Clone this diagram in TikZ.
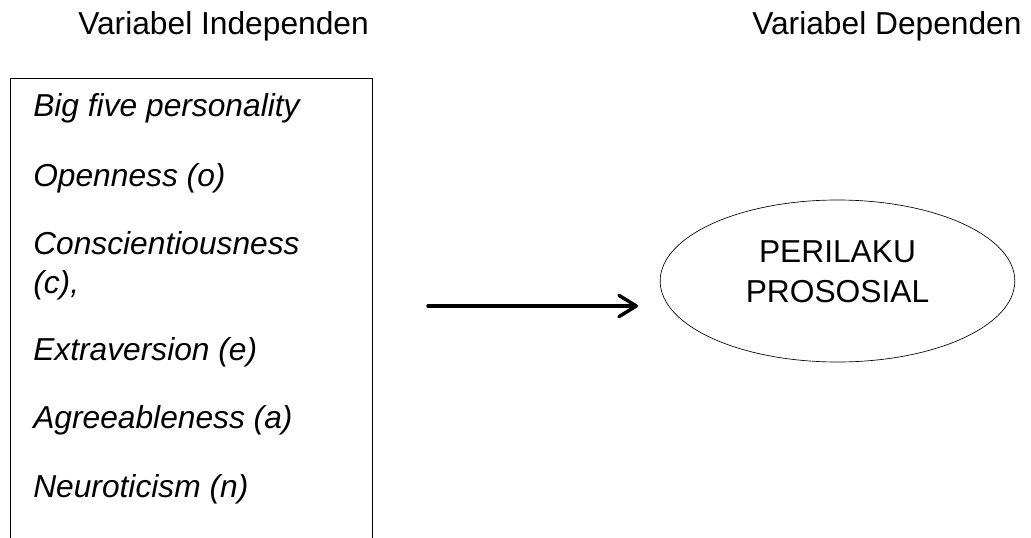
\documentclass[tikz,border=0pt]{standalone}
\usepackage{fontspec}
\setmainfont{Liberation Sans}
\usetikzlibrary{arrows.meta,positioning,shapes.geometric}
\tikzset{
  heading/.style={anchor=base west,inner sep=0pt,
                  font=\fontsize{23.8}{28}\selectfont},
  trait/.style={anchor=base west,inner sep=0pt,
                font=\fontsize{23.8}{28}\selectfont\itshape},
  traitbox/.style={draw=black,line width=0.6pt,anchor=north west,
                   minimum width=271.5pt,minimum height=400pt,inner sep=0pt},
  outcome/.style={draw=black,ellipse,line width=0.5pt,
                  minimum width=266pt,minimum height=121.5pt,inner sep=0pt},
  outlabel/.style={align=center,inner sep=0pt,
                   font=\fontsize{23.8}{30}\selectfont},
  mainarr/.style={-{Straight Barb[length=13pt,width=16pt,round]},
                  line width=2.6pt,line cap=round}
}
\begin{document}
\begin{tikzpicture}[x=0.75pt,y=-0.75pt]
    \path[use as bounding box] (0,0) rectangle (1031,538);
    \clip (0,0) rectangle (1031,538);
    \node[heading] (indep) at (78,35) {Variabel Independen};
    \node[heading] (dep) at (752,35) {Variabel Dependen};

    \node[traitbox] (traits) at (10,78) {};
    \node[trait] (bigfive) at (33,117) {Big five personality};
    \node[trait] (open) at (33,187) {Openness (o)};
    \node[trait] (consc) at (33,255) {Conscientiousness};
    \node[trait] (conscb) at (33,293) {(c),};
    \node[trait] (extra) at (33,360) {Extraversion (e)};
    \node[trait] (agree) at (33,428) {Agreeableness (a)};
    \node[trait] (neuro) at (33,497) {Neuroticism (n)};

    \node[outcome] (prosocial) at (837.5,281) {};
    \node[outlabel] (prosociallbl) at (837.5,272) {PERILAKU\\PROSOSIAL};

    \coordinate (arrfrom) at (428,306);
    \coordinate (arrto) at (638,306);
    \draw[mainarr] (arrfrom) -- (arrto);
  \end{tikzpicture}
\end{document}
